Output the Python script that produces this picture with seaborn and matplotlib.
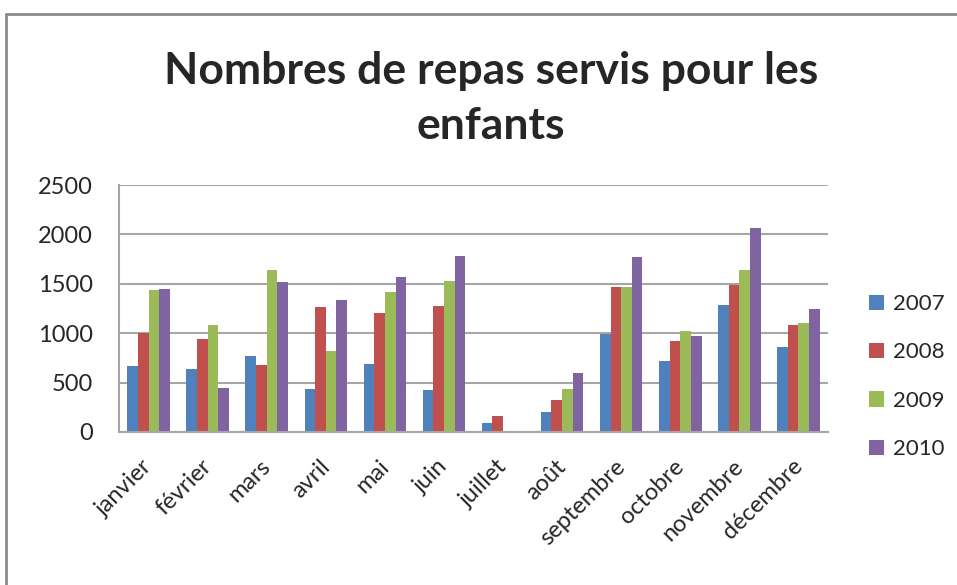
import pandas as pd
import matplotlib.pyplot as plt
import matplotlib.transforms as mtransforms
import seaborn as sns
from matplotlib.lines import Line2D

mois = ['janvier', 'février', 'mars', 'avril', 'mai', 'juin', 'juillet',
        'août', 'septembre', 'octobre', 'novembre', 'décembre']
annees = ['2007', '2008', '2009', '2010']
repas_2007 = [665, 638, 774, 436, 692, 429, 95, 199, 993, 720, 1287, 858]
repas_2008 = [1007, 939, 679, 1267, 1206, 1277, 162, 324, 1463, 926, 1490, 1088]
repas_2009 = [1436, 1078, 1638, 821, 1419, 1530, 0, 432, 1463, 1024, 1638, 1101]
repas_2010 = [1449, 443, 1520, 1341, 1571, 1780, 0, 601, 1767, 973, 2067, 1246]
couleurs = ['#4F81BD', '#C0504D', '#9BBB59', '#8064A2']


def main():
    series = [repas_2007, repas_2008, repas_2009, repas_2010]
    rows = []
    for annee, valeurs in zip(annees, series):
        for m, v in zip(mois, valeurs):
            rows.append({'mois': m, 'annee': annee, 'repas': v})
    df = pd.DataFrame(rows)

    sns.set_style('white')
    plt.rcParams['font.family'] = ['Lato', 'DejaVu Sans']

    fig = plt.figure(figsize=(9.57, 5.85), dpi=100)
    ax = fig.add_axes([119 / 957, 153 / 585, 709 / 957, 247 / 585])

    sns.barplot(data=df, x='mois', y='repas', hue='annee', order=mois,
                hue_order=annees, palette=couleurs, width=0.72,
                saturation=1, linewidth=0, ax=ax)

    ax.set_ylim(0, 2500)
    ax.set_yticks(range(0, 2501, 500))
    ax.yaxis.grid(True, color='#a6a6a6', linewidth=1.5)
    ax.set_axisbelow(True)
    ax.set_xlabel('')
    ax.set_ylabel('')
    for s in ['top', 'right']:
        ax.spines[s].set_visible(False)
    for s in ['left', 'bottom']:
        ax.spines[s].set_color('#a6a6a6')
        ax.spines[s].set_linewidth(1.5)
    ax.tick_params(axis='y', labelsize=17, pad=19, length=0)
    ax.tick_params(axis='x', labelsize=17, length=0, pad=17)
    decalage = mtransforms.ScaledTranslation(-7 / 100, 0, fig.dpi_scale_trans)
    for lab in ax.get_xticklabels():
        lab.set_rotation(45)
        lab.set_ha('right')
        lab.set_rotation_mode('anchor')
        lab.set_transform(lab.get_transform() + decalage)

    ax.legend(loc='center left', bbox_to_anchor=(1.03, 0.224), frameon=False,
              fontsize=16, labelspacing=1.28, handlelength=0.68,
              handleheight=0.68, handletextpad=0.4)

    fig.text(0.513, 0.831, 'Nombres de repas servis pour les\nenfants',
             ha='center', va='center', fontsize=32, fontweight='bold',
             linespacing=1.45)

    fig.add_artist(Line2D([6 / 957, 6 / 957], [0, 1 - 14 / 585],
                          color='#8c8c8c', linewidth=2))
    fig.add_artist(Line2D([6 / 957, 1], [1 - 14 / 585, 1 - 14 / 585],
                          color='#8c8c8c', linewidth=2))

    fig.savefig('out.png', dpi=100)


main()
